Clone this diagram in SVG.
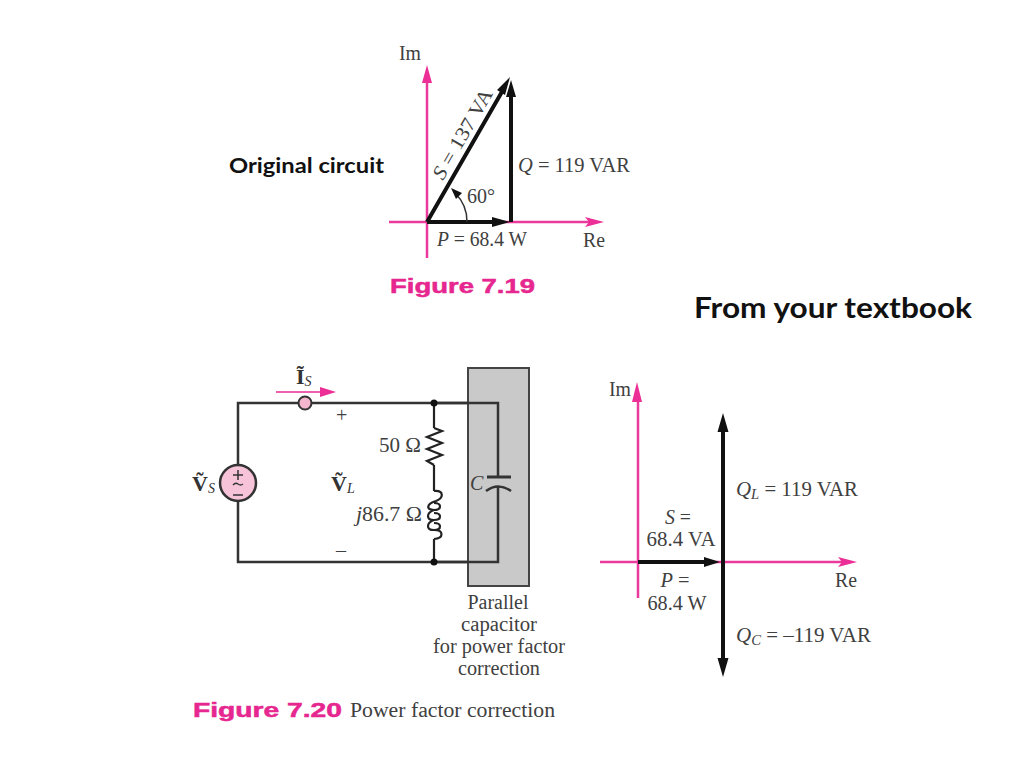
<svg xmlns="http://www.w3.org/2000/svg" width="1024" height="768" viewBox="0 0 1024 768">
<style>
.t{font-family:"Liberation Serif",serif;font-size:20px;fill:#404040}
.i{font-style:italic}
.sub{font-size:14px;font-style:italic}
.b{font-family:"Liberation Serif",serif;font-weight:bold;font-size:22px;fill:#333}
.fig{font-family:"Liberation Sans",sans-serif;font-weight:bold;font-size:20px;fill:#e6278f;stroke:#e6278f;stroke-width:.5}
.cal{font-family:Lato,"Liberation Sans",sans-serif;font-weight:bold;fill:#111}
.pink{stroke:#ec3a9c;stroke-width:2.5;fill:none}
.thin{stroke:#ee5fae;stroke-width:2;fill:none}
.vec{stroke:#111;stroke-width:4;fill:none}
.wire{stroke:#333;stroke-width:2.5;fill:none}
.wire2{stroke:#222;stroke-width:2.2;fill:none}
.ph{fill:#ec2f96}
.bh{fill:#111}
</style>
<rect width="1024" height="768" fill="#fff"/>

<g id="caption-original"><text class="cal" x="229" y="173" font-size="21" textLength="155" lengthAdjust="spacingAndGlyphs">Original circuit</text></g>
<g id="caption-textbook"><text class="cal" x="694" y="318" font-size="29" textLength="278" lengthAdjust="spacingAndGlyphs">From your textbook</text></g>

<g id="connectors">
 <g id="fig19-axes">
  <path class="pink" d="M427 258V80M389 222H590"/>
  <path class="ph" d="M427 65L432 83H422ZM604 222L585 217L589 222L585 227Z"/>
 </g>
 <g id="fig19-vectors">
  <path class="vec" d="M427 222L503 90M511 222V92M427 222H495"/>
  <path class="bh" d="M510 77L505 95L497 90ZM511 80L516 97H506ZM510 222L492 217V227Z"/>
  <path d="M467 222A40 40 0 0 0 455 193" fill="none" stroke="#333" stroke-width="1.500"/>
  <path class="bh" d="M451 188L462 193L456 199Z"/>
 </g>
 <g id="circuit-wires">
  <path class="wire" d="M238 466V403H498V562H238V498"/>
  <path class="wire2" d="M434 403V428M434 465V491M434 539V562"/>
  <path class="thin" d="M276 392H325"/>
  <path class="ph" d="M336 392L320 387V397Z"/>
 </g>
 <g id="fig20-axes">
  <path class="pink" d="M638 598V395M600 562H845"/>
  <path class="ph" d="M637 382L642 402H632ZM857 562L838 557L842 562L838 567Z"/>
 </g>
 <g id="fig20-vectors">
  <path class="vec" d="M638 562H705M723 425V665"/>
  <path class="bh" d="M720 562L704 557V567ZM723 413L717.500 432H728.500ZM723 677L717.500 658H728.500Z"/>
 </g>
</g>

<g id="capacitor-panel">
 <rect x="468" y="368" width="61" height="218" fill="#c9c9c9" stroke="#444" stroke-width="2"/>
 <path class="wire" d="M434 403H498V477M434 562H498V486"/>
 <path d="M487 477H511" stroke="#333" stroke-width="3" fill="none"/>
 <path d="M486 491Q498 482 511 491" stroke="#333" stroke-width="2.500" fill="none"/>
 <text class="t i" x="470" y="490">C</text>
</g>

<g id="resistor">
 <path class="wire2" d="M434 428L442 431L427 437L442 443L427 449L442 455L427 461L434 465"/>
 <text class="t" x="379" y="452" textLength="42" lengthAdjust="spacingAndGlyphs">50 Ω</text>
</g>
<g id="inductor">
 <path class="wire2" d="M434 491C444 490 444 498 436 501C426 504 426 510 434 510C442 510 442 503 434 503M434 510C426 513 426 520 434 520C442 520 442 513 434 513M434 520C426 523 426 530 434 530C442 530 442 523 434 523M434 530C444 530 444 538 434 539"/>
 <text class="t" x="356" y="521" textLength="66" lengthAdjust="spacingAndGlyphs"><tspan class="i">j</tspan>86.7 Ω</text>
</g>
<g id="junction-top"><circle cx="434" cy="403" r="3.500" fill="#111"/></g>
<g id="junction-bottom"><circle cx="434" cy="562" r="3.500" fill="#111"/></g>
<g id="ammeter"><circle cx="305" cy="403" r="6.500" fill="#f4b5ce" stroke="#333" stroke-width="2"/></g>
<g id="source">
 <circle cx="238" cy="483" r="18" fill="#f6c3d8" stroke="#333" stroke-width="2.500"/>
 <path d="M233 475H243M238 470V480M233 495H243" stroke="#333" stroke-width="1.500" fill="none"/>
 <path d="M233 485Q235.500 482 238 484T243 484" stroke="#333" stroke-width="1.300" fill="none"/>
</g>

<g id="fig19-labels">
 <text class="t" x="399" y="60" textLength="22" lengthAdjust="spacingAndGlyphs">Im</text>
 <text class="t" x="0" y="0" transform="translate(443 181) rotate(-60)" textLength="101" lengthAdjust="spacingAndGlyphs"><tspan class="i">S</tspan> = 137 VA</text>
 <text class="t" x="518" y="172" textLength="112" lengthAdjust="spacingAndGlyphs"><tspan class="i">Q</tspan> = 119 VAR</text>
 <text class="t" x="467" y="203" textLength="28" lengthAdjust="spacingAndGlyphs">60°</text>
 <text class="t" x="437" y="246" textLength="90" lengthAdjust="spacingAndGlyphs"><tspan class="i">P</tspan> = 68.4 W</text>
 <text class="t" x="583" y="247" textLength="22" lengthAdjust="spacingAndGlyphs">Re</text>
 <text class="fig" x="390" y="293" textLength="145" lengthAdjust="spacingAndGlyphs">Figure 7.19</text>
</g>
<g id="circuit-labels">
 <text class="b" x="296" y="384">Ĩ<tspan class="sub" font-weight="normal" dy="2">S</tspan></text>
 <text class="b" x="192" y="491">Ṽ<tspan class="sub" font-weight="normal" dy="2">S</tspan></text>
 <text class="b" x="331" y="491">Ṽ<tspan class="sub" font-weight="normal" dy="2">L</tspan></text>
 <text class="t" x="336" y="422">+</text>
 <text class="t" x="336" y="557">–</text>
 <g text-anchor="middle">
  <text class="t" x="498" y="609" textLength="61" lengthAdjust="spacingAndGlyphs">Parallel</text>
  <text class="t" x="499" y="631" textLength="76" lengthAdjust="spacingAndGlyphs">capacitor</text>
  <text class="t" x="499" y="653" textLength="132" lengthAdjust="spacingAndGlyphs">for power factor</text>
  <text class="t" x="499" y="675" textLength="82" lengthAdjust="spacingAndGlyphs">correction</text>
 </g>
</g>
<g id="fig20-labels">
 <text class="t" x="609" y="396" textLength="22" lengthAdjust="spacingAndGlyphs">Im</text>
 <text class="t" x="736" y="496" textLength="122" lengthAdjust="spacingAndGlyphs"><tspan class="i">Q</tspan><tspan class="sub" dy="3">L</tspan><tspan dy="-3"> = 119 VAR</tspan></text>
 <g text-anchor="middle">
  <text class="t" x="678" y="524" textLength="26" lengthAdjust="spacingAndGlyphs"><tspan class="i">S</tspan> =</text>
  <text class="t" x="681" y="546" textLength="69" lengthAdjust="spacingAndGlyphs">68.4 VA</text>
  <text class="t" x="675" y="587" textLength="29" lengthAdjust="spacingAndGlyphs"><tspan class="i">P</tspan> =</text>
  <text class="t" x="677" y="610" textLength="59" lengthAdjust="spacingAndGlyphs">68.4 W</text>
 </g>
 <text class="t" x="835" y="587" textLength="22" lengthAdjust="spacingAndGlyphs">Re</text>
 <text class="t" x="736" y="642" textLength="135" lengthAdjust="spacingAndGlyphs"><tspan class="i">Q</tspan><tspan class="sub" dy="3">C</tspan><tspan dy="-3"> = –119 VAR</tspan></text>
</g>
<g id="fig20-caption">
 <text class="fig" x="193" y="717" textLength="149" lengthAdjust="spacingAndGlyphs">Figure 7.20</text>
 <text class="t" x="350" y="717" textLength="205" lengthAdjust="spacingAndGlyphs">Power factor correction</text>
</g>
</svg>
